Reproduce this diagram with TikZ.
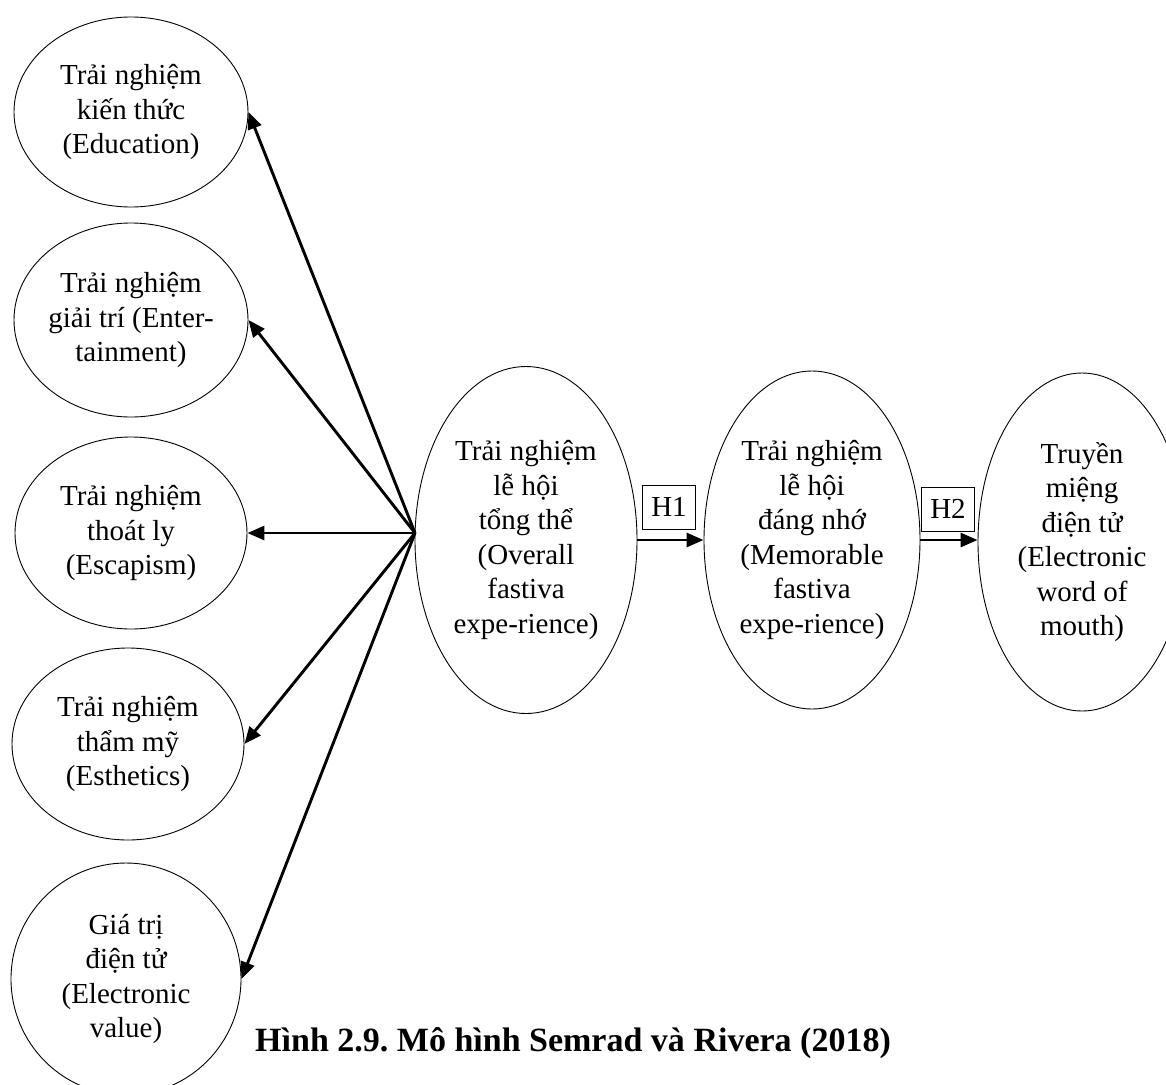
\documentclass[tikz,border=0pt]{standalone}
\usepackage{fontspec}
\setmainfont{Liberation Serif}
\usetikzlibrary{shapes.geometric,arrows.meta}
\frenchspacing
\begin{document}
\begin{tikzpicture}[x=1pt,y=-1pt,
  oval/.style={draw,line width=0.9pt,ellipse,inner sep=0pt,align=center,font=\fontsize{29}{34.5}\selectfont},
  link/.style={line width=2.9pt,-{Triangle[length=17pt,width=14pt]}},
  hbox/.style={draw,line width=0.9pt,inner sep=0pt,minimum width=53pt,minimum height=44pt,font=\fontsize{29}{34.5}\selectfont},
  caption/.style={font=\fontsize{34}{40}\selectfont\bfseries,inner sep=0pt,anchor=base west}]
\useasboundingbox (0,0) rectangle (1166,1084);
\clip (0,0) rectangle (1166,1084);
% left ellipses
\node[oval,minimum width=234pt,minimum height=190pt] (e1) at (131,112) {Trải nghiệm\\kiến thức\\(Education)};
\node[oval,minimum width=234pt,minimum height=194pt] (e2) at (131,320) {Trải nghiệm\\giải trí (Enter-\\tainment)};
\node[oval,minimum width=232pt,minimum height=192pt] (e3) at (131,533) {Trải nghiệm\\thoát ly\\(Escapism)};
\node[oval,minimum width=232pt,minimum height=192pt] (e4) at (128,744) {Trải nghiệm\\thẩm mỹ\\(Esthetics)};
\node[oval,minimum width=230pt,minimum height=232pt] (e5) at (126,979) {Giá trị\\điện tử\\(Electronic\\value)};
% main chain
\node[oval,minimum width=222pt,minimum height=347pt] (a) at (526,540) {Trải nghiệm\\lễ hội\\tổng thể\\(Overall\\fastiva\\expe-rience)};
\node[oval,minimum width=216pt,minimum height=338pt] (b) at (812,540) {Trải nghiệm\\lễ hội\\đáng nhớ\\(Memorable\\fastiva\\expe-rience)};
\node[oval,minimum width=208pt,minimum height=338pt] (c) at (1082,542) {Truyền\\miệng\\điện tử\\(Electronic\\word of\\mouth)};
% hub
\coordinate (hub) at (415,533);
\draw[link] (hub) -- (e1.east);
\draw[link] (hub) -- (e2.east);
\draw[link] (hub) -- (e3.east);
\draw[link] (hub) -- (e4.east);
\draw[link] (hub) -- (e5.east);
% hypotheses
\draw[link] (a.east) -- (b.west);
\draw[link] (b.east) -- (b.east -| c.west);
\node[hbox] (h1) at (669,507) {H1};
\node[hbox] (h2) at (948,509) {H2};
% caption
\node[caption] (cap) at (255,1051) {Hình 2.9. Mô hình Semrad và Rivera (2018)};
\end{tikzpicture}
\end{document}
